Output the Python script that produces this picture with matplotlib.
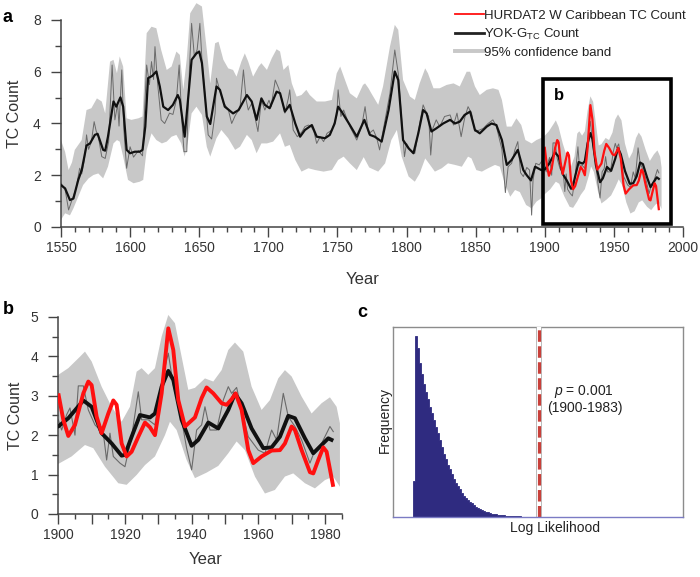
import numpy as np
import matplotlib.pyplot as plt
from matplotlib.lines import Line2D
from matplotlib.patches import Rectangle
from matplotlib.ticker import MultipleLocator, FixedLocator, FuncFormatter

plt.rcParams['font.family'] = ['Liberation Sans', 'DejaVu Sans']
plt.rcParams['mathtext.fontset'] = 'custom'
plt.rcParams['mathtext.rm'] = 'Liberation Sans'
plt.rcParams['mathtext.it'] = 'Liberation Sans:italic'

# --- YOK-G TC count, smoothed (black) ---
smooth_years = [1550, 1553, 1556.5, 1559, 1562.5, 1565, 1568.5, 1571, 1574.5, 1576.5,
                1580.5, 1582, 1584, 1588, 1590, 1593, 1595, 1597.5, 1600, 1603.5,
                1607, 1609, 1611, 1613, 1616, 1619, 1621.5, 1624, 1627.5, 1631,
                1634.5, 1636, 1639.5, 1644.5, 1648, 1650, 1652, 1655.5, 1658, 1662.5,
                1665, 1668.5, 1674.5, 1678.5, 1684.5, 1688, 1691.5, 1695, 1697.5, 1701,
                1706, 1708.5, 1712, 1715.5, 1719.5, 1723, 1726.5, 1731.5, 1735, 1741,
                1744.5, 1748, 1750.5, 1753, 1759, 1764, 1769.5, 1773.5, 1777, 1782,
                1787, 1791.5, 1794, 1797.5, 1801.5, 1805, 1808.5, 1812, 1814.5, 1818,
                1821.5, 1826.5, 1831.5, 1835, 1838.5, 1842, 1846, 1849.5, 1853, 1858,
                1861.5, 1865, 1869, 1872.5, 1876, 1880.5, 1884.5, 1887, 1890, 1893,
                1897.5,
                1900, 1903, 1907.5, 1910, 1913, 1916, 1919, 1920, 1922, 1924.5,
                1927.5, 1929, 1931, 1933, 1934.5, 1937, 1940, 1942, 1945, 1948,
                1951, 1953, 1955, 1958, 1961.5, 1964, 1966.5, 1969, 1971, 1974,
                1976.5, 1978.5, 1981, 1982.5]
smooth_vals = [1.62, 1.49, 1.04, 1.10, 1.82, 2.20, 3.15, 3.23, 3.56, 3.60,
               2.98, 2.95, 3.49, 4.85, 4.65, 5.01, 4.65, 2.98, 2.85, 2.91,
               2.91, 2.98, 3.88, 5.75, 5.84, 6.01, 5.43, 4.65, 4.52, 4.72,
               5.10, 4.91, 3.49, 6.46, 6.71, 6.78, 6.33, 4.27, 3.98, 5.43,
               5.30, 4.65, 4.39, 4.52, 5.10, 4.85, 4.14, 4.97, 4.72, 4.59,
               5.23, 5.17, 4.46, 4.72, 4.00, 3.49, 3.75, 3.94, 3.49, 3.43,
               3.56, 4.00, 4.65, 4.46, 3.94, 3.49, 4.14, 3.56, 3.49, 3.30,
               4.52, 6.01, 5.68, 3.36, 3.04, 2.85, 3.62, 4.52, 4.39, 3.69,
               3.81, 4.00, 4.14, 4.00, 4.07, 4.33, 4.46, 3.75, 3.62, 3.88,
               4.00, 3.94, 3.36, 2.40, 2.59, 2.98, 2.20, 2.00, 1.80, 2.33,
               2.20,
               2.22, 2.43, 2.88, 2.72, 2.05, 1.79, 1.48, 1.50, 1.96, 2.51,
               2.45, 2.55, 3.23, 3.63, 3.40, 2.39, 1.73, 1.88, 2.32, 2.17,
               2.64, 3.05, 2.81, 2.17, 1.67, 1.69, 1.96, 2.49, 2.43, 1.92,
               1.54, 1.71, 1.92, 1.86]

# --- YOK-G TC count, raw (thin grey) ---
raw_years = [1550, 1553, 1555.5, 1558, 1561, 1563.5, 1565, 1567, 1568.5, 1570,
             1572, 1574, 1575.5, 1577, 1579.5, 1582, 1584.5, 1587, 1589, 1591,
             1592, 1594, 1595.5, 1597.5, 1600, 1602.5, 1606, 1609, 1612, 1614,
             1615.5, 1617, 1618, 1620, 1622.5, 1625, 1628.5, 1631, 1633.5, 1635.5,
             1637.5, 1639, 1641, 1643, 1644.5, 1646.5, 1648.5, 1650.5, 1652, 1654.5,
             1656.5, 1659, 1661.5, 1662.5, 1665, 1667.5, 1671, 1673.5, 1676, 1679.5,
             1682, 1684, 1685.5, 1688, 1690, 1692.5, 1695, 1697.5, 1700.5, 1702,
             1705, 1707.5, 1710, 1712, 1714.5, 1715.5, 1718, 1721, 1724.5, 1726.5,
             1729, 1731, 1733, 1735, 1737.5, 1740, 1742.5, 1746, 1749.5, 1750.5,
             1752.5, 1754.5, 1759, 1764, 1767.5, 1770, 1772.5, 1776, 1778.5, 1780.5,
             1784.5, 1788, 1791.5, 1794, 1796.5, 1798.5, 1800, 1802.5, 1806, 1810,
             1812, 1813.5, 1816, 1817.5, 1819, 1821.5, 1824, 1827.5, 1831.5, 1834,
             1836.5, 1839.5, 1842, 1844.5, 1847, 1849.5, 1853, 1855.5, 1859, 1862.5,
             1865, 1869, 1871.5, 1873.5, 1876, 1878.5, 1880.5, 1882.5, 1884.5, 1887,
             1889, 1890.5, 1891.5, 1893.5, 1896, 1898.5,
             1900, 1901, 1902.5, 1903.5, 1905, 1906, 1907.5, 1909, 1911, 1913.5,
             1914.5, 1915.5, 1916.5, 1918.5, 1920, 1922, 1924, 1925, 1927, 1929,
             1931, 1933, 1934.5, 1937, 1938.5, 1940, 1941.5, 1943, 1944, 1945.5,
             1947.5, 1949.5, 1951, 1952, 1953.5, 1955, 1957, 1960, 1962, 1964,
             1965.5, 1967.5, 1969, 1971, 1973, 1975.5, 1977, 1979, 1981.5, 1982.5]
raw_vals = [1.70, 1.45, 0.66, 1.05, 1.50, 2.27, 2.05, 2.60, 3.56, 3.00,
            3.30, 4.07, 3.70, 3.50, 2.72, 2.65, 3.30, 6.26, 4.14, 4.75,
            3.90, 6.07, 3.75, 2.27, 3.10, 2.70, 2.95, 2.75, 6.26, 5.50,
            6.39, 5.70, 6.97, 5.50, 4.14, 4.00, 4.40, 4.35, 4.91, 6.26,
            4.07, 2.91, 2.91, 6.20, 7.87, 6.59, 6.85, 7.87, 6.45, 4.90,
            3.56, 3.40, 4.39, 5.75, 5.25, 4.80, 4.55, 4.00, 4.30, 4.60,
            6.07, 4.90, 4.52, 4.78, 4.33, 3.69, 4.90, 4.52, 4.90, 4.65,
            5.68, 5.36, 4.90, 4.40, 4.97, 5.30, 3.75, 3.49, 3.69, 3.88,
            3.94, 3.88, 3.69, 3.23, 3.49, 3.30, 3.62, 3.75, 4.30, 5.30,
            4.27, 4.52, 3.88, 3.36, 3.88, 4.65, 3.60, 3.75, 3.43, 2.98,
            4.14, 5.17, 6.84, 5.94, 4.14, 2.72, 3.23, 2.98, 2.85, 4.14,
            4.72, 4.52, 4.27, 2.78, 3.81, 4.14, 3.88, 4.27, 4.33, 3.94,
            4.40, 3.49, 4.20, 4.65, 4.40, 3.69, 3.75, 3.81, 4.00, 4.14,
            3.88, 3.00, 1.33, 2.33, 2.46, 3.00, 3.30, 2.10, 1.95, 2.30,
            2.20, 0.46, 1.80, 2.46, 2.40, 2.60,
            2.39, 2.13, 2.52, 2.69, 2.00, 3.25, 3.25, 2.64, 2.26, 2.05,
            1.37, 2.05, 1.46, 1.29, 1.20, 1.96, 3.10, 2.39, 2.39, 2.26,
            3.36, 4.08, 3.27, 2.39, 1.67, 1.12, 2.13, 2.26, 2.72, 2.13,
            2.13, 2.89, 3.23, 3.06, 3.21, 2.64, 1.96, 1.62, 1.54, 2.13,
            1.88, 3.06, 2.47, 2.22, 1.88, 1.29, 1.62, 1.79, 2.22, 2.09]

# --- 95% confidence band ---
upper_years = [1550, 1553, 1555.5, 1558, 1560, 1565, 1568.5, 1572, 1576, 1579.5,
               1582, 1585.5, 1588, 1590.5, 1592.5, 1595, 1597.5, 1601, 1606, 1609,
               1612, 1615.5, 1619, 1622.5, 1626.5, 1630, 1633.5, 1636, 1638.5, 1641,
               1643.5, 1648, 1652, 1655.5, 1658, 1661.5, 1664, 1667.5, 1671, 1674.5,
               1677, 1680.5, 1683, 1685.5, 1689, 1693, 1695, 1699, 1702.5, 1706,
               1708.5, 1711, 1714.5, 1717, 1720.5, 1724, 1727.5, 1730, 1735, 1741,
               1746, 1749.5, 1752, 1755.5, 1759, 1764, 1768.5, 1770, 1772.5, 1774.5,
               1779.5, 1783, 1788, 1791.5, 1794, 1797.5, 1802.5, 1806, 1809.5, 1813.5,
               1815.5, 1819.5, 1824, 1829, 1834, 1838.5, 1843.5, 1846, 1849.5, 1853,
               1858, 1862.5, 1866.5, 1869, 1872.5, 1876, 1879.5, 1883, 1886, 1890.5,
               1894, 1897,
               1900, 1903, 1906.5, 1908, 1910, 1913, 1916, 1919, 1921.5, 1923.5,
               1925, 1927, 1929, 1931, 1933, 1935, 1937, 1939, 1941, 1944,
               1946.5, 1949, 1951, 1953, 1955.5, 1958, 1961, 1963.5, 1966, 1968,
               1970, 1973, 1976, 1979, 1981.5, 1983.5, 1984.5]
upper_vals = [3.36, 2.90, 2.20, 2.50, 2.98, 3.36, 4.52, 4.59, 4.97, 4.85,
              4.39, 6.39, 6.46, 5.94, 6.59, 6.20, 4.20, 4.14, 4.20, 4.27,
              7.49, 7.74, 7.68, 6.84, 6.07, 6.20, 6.78, 6.65, 5.30, 6.50,
              8.26, 8.65, 8.52, 6.84, 5.55, 7.10, 7.16, 6.46, 6.13, 6.07,
              5.81, 6.39, 6.71, 6.39, 5.81, 6.20, 6.33, 6.07, 6.52, 6.87,
              6.78, 6.07, 6.26, 5.55, 5.04, 5.10, 5.30, 5.10, 4.85, 4.85,
              4.91, 5.94, 6.20, 5.68, 5.17, 4.97, 5.49, 5.55, 5.36, 5.17,
              4.72, 5.43, 6.97, 7.81, 7.62, 5.68, 5.04, 4.91, 5.55, 6.13,
              5.94, 5.36, 5.36, 5.49, 5.55, 5.43, 6.00, 6.00, 5.43, 5.10,
              5.30, 5.36, 5.30, 4.91, 3.88, 3.88, 4.20, 3.94, 3.36, 3.23,
              3.36, 3.43,
              3.53, 3.70, 3.99, 4.12, 3.87, 3.23, 2.72, 2.34, 2.72, 3.61,
              3.70, 3.53, 3.70, 4.50, 5.05, 4.84, 3.99, 3.15, 3.20, 3.44,
              3.36, 3.65, 4.16, 4.35, 4.12, 3.23, 2.64, 2.89, 3.44, 3.65,
              3.49, 2.98, 2.55, 2.81, 2.96, 2.72, 2.30]
lower_years = [1550, 1553, 1556.5, 1559, 1562.5, 1566, 1570, 1573.5, 1577, 1580.5,
               1584, 1588, 1590.5, 1592.5, 1595, 1598.5, 1602.5, 1607, 1609.5, 1612,
               1615.5, 1619, 1623, 1626.5, 1630, 1633.5, 1637, 1639.5, 1642, 1644.5,
               1648, 1652, 1655.5, 1658, 1662.5, 1666, 1671, 1676, 1679.5, 1684.5,
               1688, 1691.5, 1695, 1699, 1703.5, 1708.5, 1712, 1715.5, 1719.5, 1724,
               1729, 1734, 1740, 1746, 1750.5, 1754.5, 1759, 1764, 1769, 1773,
               1779.5, 1784.5, 1789, 1793, 1796.5, 1801.5, 1806, 1809.5, 1813.5, 1817,
               1820.5, 1825.5, 1830, 1835, 1840, 1844.5, 1847, 1850.5, 1854.5, 1859,
               1864, 1867.5, 1871, 1875, 1878.5, 1882, 1886.5, 1890.5, 1894, 1897.5,
               1900, 1904, 1908, 1910.5, 1914, 1918, 1920.5, 1923.5, 1926, 1929,
               1932, 1933.5, 1935.5, 1938.5, 1941, 1944.5, 1948, 1951, 1953.5, 1956,
               1959, 1962, 1965, 1968, 1970.5, 1974, 1977, 1980, 1982.5, 1984.5]
lower_vals = [0.27, 0.53, 0.45, 0.72, 1.17, 1.62, 1.88, 2.01, 2.07, 1.88,
              2.33, 3.23, 3.36, 3.30, 2.72, 1.82, 1.69, 1.75, 1.82, 2.98,
              3.62, 3.36, 3.23, 3.30, 3.49, 3.56, 3.23, 2.72, 3.36, 4.39,
              4.65, 4.33, 3.10, 2.72, 3.43, 3.75, 3.43, 2.98, 3.10, 3.56,
              3.36, 2.85, 3.23, 3.23, 3.30, 3.62, 3.10, 3.17, 2.59, 2.14,
              2.27, 2.20, 2.14, 2.20, 2.59, 2.72, 2.46, 2.20, 2.70, 2.30,
              2.14, 2.46, 3.36, 3.75, 2.72, 1.95, 1.75, 2.07, 2.65, 2.40,
              2.14, 2.27, 2.46, 2.40, 2.33, 2.72, 2.65, 2.20, 2.14, 2.27,
              2.40, 2.33, 1.69, 1.17, 1.43, 1.35, 0.85, 0.72, 0.98, 1.11,
              1.27, 1.46, 1.75, 1.67, 1.20, 0.78, 0.74, 0.99, 1.24, 1.46,
              2.00, 2.34, 2.13, 1.37, 0.91, 1.05, 1.22, 1.54, 1.84, 1.62,
              0.95, 0.52, 0.61, 0.95, 1.03, 0.78, 0.65, 0.86, 0.95, 0.69]

# --- HURDAT2 W Caribbean TC count (red) ---
hurdat_years = [1900, 1901.5, 1903, 1905, 1907.5, 1909, 1910, 1911.5, 1913, 1915,
                1916.5, 1917.5, 1919, 1920.5, 1922, 1924, 1926, 1927.5, 1929, 1931,
                1933, 1934.5, 1936, 1938, 1941, 1943, 1944.5, 1946.5, 1949, 1950.5,
                1952, 1953.2, 1955, 1957, 1958.5, 1961, 1964, 1966.5, 1968, 1970,
                1971, 1973, 1975.5, 1976.5, 1978, 1979.5, 1980.5, 1982.5]
hurdat_vals = [3.06, 2.39, 1.98, 2.26, 3.06, 3.36, 3.27, 2.47, 2.05, 2.55,
               2.88, 2.77, 1.79, 1.46, 1.58, 1.96, 2.32, 2.20, 2.00, 3.06,
               4.71, 4.16, 2.89, 2.22, 2.45, 2.94, 3.21, 3.06, 2.81, 2.77,
               2.91, 3.06, 2.64, 1.62, 1.29, 1.46, 1.61, 1.62, 1.79, 2.22,
               2.13, 1.62, 1.06, 1.03, 1.37, 1.69, 1.58, 0.69]

# --- panel c: log likelihood null distribution (bin counts) ---
freq = [190, 950, 890, 810, 750, 700, 660, 620, 580, 545,
        510, 475, 440, 405, 370, 330, 305, 275, 250, 225,
        200, 180, 162, 145, 125, 110, 100, 90, 80, 72,
        62, 55, 48, 42, 36, 32, 28, 24, 21, 18,
        16, 14, 12, 10, 9, 8, 7, 6, 5, 4.5,
        4, 3.5, 3, 3, 2.5, 2.5, 2, 2, 1.5, 1.5,
        1, 1]
observed_ll = 62.9

BAND = '#c8c8c8'
RAW = '#6a6a6a'
RED = '#ff1010'
NAVY = '#2f2b80'
SPINE = '#444444'


def band(ax):
    xs = np.r_[upper_years, lower_years[::-1]]
    ys = np.r_[upper_vals, lower_vals[::-1]]
    ax.fill(xs, ys, color=BAND, lw=0, zorder=1)


def style(ax):
    for s in ['top', 'right']:
        ax.spines[s].set_visible(False)
    for s in ['left', 'bottom']:
        ax.spines[s].set_color(SPINE)
        ax.spines[s].set_linewidth(1.1)
    ax.tick_params(axis='both', which='both', direction='out', colors=SPINE,
                   labelcolor='#333333', labelsize=10, width=1.0)
    ax.tick_params(axis='x', which='major', length=7, pad=3)
    ax.tick_params(axis='x', which='minor', length=3.6)
    ax.tick_params(axis='y', which='major', length=7.5, pad=7)
    ax.tick_params(axis='y', which='minor', length=4)


fig = plt.figure(figsize=(7, 5.77), dpi=100)

# ---------------- panel a ----------------
ax_a = fig.add_axes([0.0871, 0.6066, 0.8886, 0.3924])
band(ax_a)
ax_a.plot(raw_years, raw_vals, color=RAW, lw=0.7, zorder=2)
ax_a.plot(smooth_years, smooth_vals, color='#111111', lw=1.6, zorder=3,
          solid_joinstyle='round')
ax_a.plot(hurdat_years, hurdat_vals, color=RED, lw=1.6, zorder=4,
          solid_joinstyle='round')
ax_a.set_xlim(1550, 2000)
ax_a.set_ylim(0, 8.75)
ax_a.spines['left'].set_bounds(0, 8)
style(ax_a)
ax_a.xaxis.set_major_locator(MultipleLocator(50))
ax_a.xaxis.set_minor_locator(MultipleLocator(10))
ax_a.set_yticks([0, 2, 4, 6, 8])
ax_a.yaxis.set_minor_locator(FixedLocator([1, 3, 5, 7]))
ax_a.set_xlabel('Year', fontsize=12, color='#333333')
ax_a.xaxis.set_label_coords(0.485, -0.2)
ax_a.set_ylabel('TC Count', fontsize=11.5, color='#333333')
ax_a.yaxis.set_label_coords(-0.062, 0.5)
ax_a.add_patch(Rectangle((1899, 0.12), 92.5, 5.6, fill=False, lw=2.6,
                         edgecolor='black', zorder=6))
ax_a.text(1910, 5.1, 'b', fontsize=12, fontweight='bold', ha='center',
          va='center', zorder=7)

handles = [Line2D([], [], color=RED, lw=1.3),
           Line2D([], [], color='#222222', lw=2.0),
           Line2D([], [], color=BAND, lw=2.8)]
labels = ['HURDAT2 W Caribbean TC Count', 'YOK-G$_{\\mathrm{TC}}$ Count',
          '95% confidence band']
fig.legend(handles, labels, loc='upper left', bbox_to_anchor=(0.638, 0.997),
           frameon=False, fontsize=9.5, handlelength=2.2, handletextpad=0.05,
           labelspacing=0.36, borderaxespad=0.2, labelcolor='#222222')

# ---------------- panel b ----------------
ax_b = fig.add_axes([0.0833, 0.1092, 0.4047, 0.3484])
band(ax_b)
ax_b.plot(raw_years, raw_vals, color=RAW, lw=0.8, zorder=2)
ax_b.plot(smooth_years, smooth_vals, color='#111111', lw=2.8, zorder=3,
          solid_joinstyle='round', solid_capstyle='butt')
ax_b.plot(hurdat_years, hurdat_vals, color=RED, lw=2.8, zorder=4,
          solid_joinstyle='round', solid_capstyle='butt')
ax_b.set_xlim(1900, 1985)
ax_b.set_ylim(0, 5.1)
ax_b.spines['left'].set_bounds(0, 5)
style(ax_b)
ax_b.xaxis.set_major_locator(MultipleLocator(10))
ax_b.xaxis.set_major_formatter(FuncFormatter(
    lambda v, p: '%d' % v if int(round(v)) % 20 == 0 else ''))
ax_b.xaxis.set_minor_locator(MultipleLocator(5))
ax_b.yaxis.set_major_locator(MultipleLocator(1))
ax_b.yaxis.set_minor_locator(MultipleLocator(0.5))
ax_b.set_xlabel('Year', fontsize=12, color='#333333')
ax_b.xaxis.set_label_coords(0.52, -0.19)
ax_b.set_ylabel('TC Count', fontsize=11.5, color='#333333')
ax_b.yaxis.set_label_coords(-0.125, 0.49)

# ---------------- panel c ----------------
ax_c = fig.add_axes([0.5614, 0.104, 0.4143, 0.3293])
ll_edges = np.arange(len(freq) + 1)
ax_c.stairs(freq, ll_edges, fill=True, facecolor=NAVY, edgecolor=NAVY,
            lw=0.6, zorder=2)
ax_c.axvline(observed_ll, color='#a8a8a8', lw=4.0, zorder=3)
ax_c.axvline(observed_ll, color='white', lw=2.9, zorder=4)
ax_c.axvline(observed_ll, color='#c8403a', lw=2.3, ls=(0, (3.6, 1.4)), zorder=5)
ax_c.set_xlim(-10.2, 134.8)
ax_c.set_ylim(0, 1000)
ax_c.set_xticks([])
ax_c.set_yticks([])
for s in ['top', 'left', 'right']:
    ax_c.spines[s].set_color('#8c8c8c')
    ax_c.spines[s].set_linewidth(1.0)
ax_c.spines['bottom'].set_color('#7b7bc4')
ax_c.spines['bottom'].set_linewidth(1.0)
ax_c.spines['bottom'].set_zorder(6)
ax_c.set_xlabel('Log Likelihood', fontsize=10, color='#222222')
ax_c.xaxis.set_label_coords(0.56, -0.02)
ax_c.set_ylabel('Frequency', fontsize=10, color='#222222')
ax_c.yaxis.set_label_coords(-0.005, 0.51)
ax_c.text(0.66, 0.66, '$p$ = 0.001', transform=ax_c.transAxes, fontsize=10,
          ha='center', va='center', color='#222222')
ax_c.text(0.66, 0.575, '(1900-1983)', transform=ax_c.transAxes, fontsize=10,
          ha='center', va='center', color='#222222')

# panel letters
fig.text(0.011, 0.969, 'a', fontsize=13, fontweight='bold', ha='center', va='center')
fig.text(0.012, 0.463, 'b', fontsize=13, fontweight='bold', ha='center', va='center')
fig.text(0.517, 0.459, 'c', fontsize=13, fontweight='bold', ha='center', va='center')

fig.savefig('out.png', dpi=100)
